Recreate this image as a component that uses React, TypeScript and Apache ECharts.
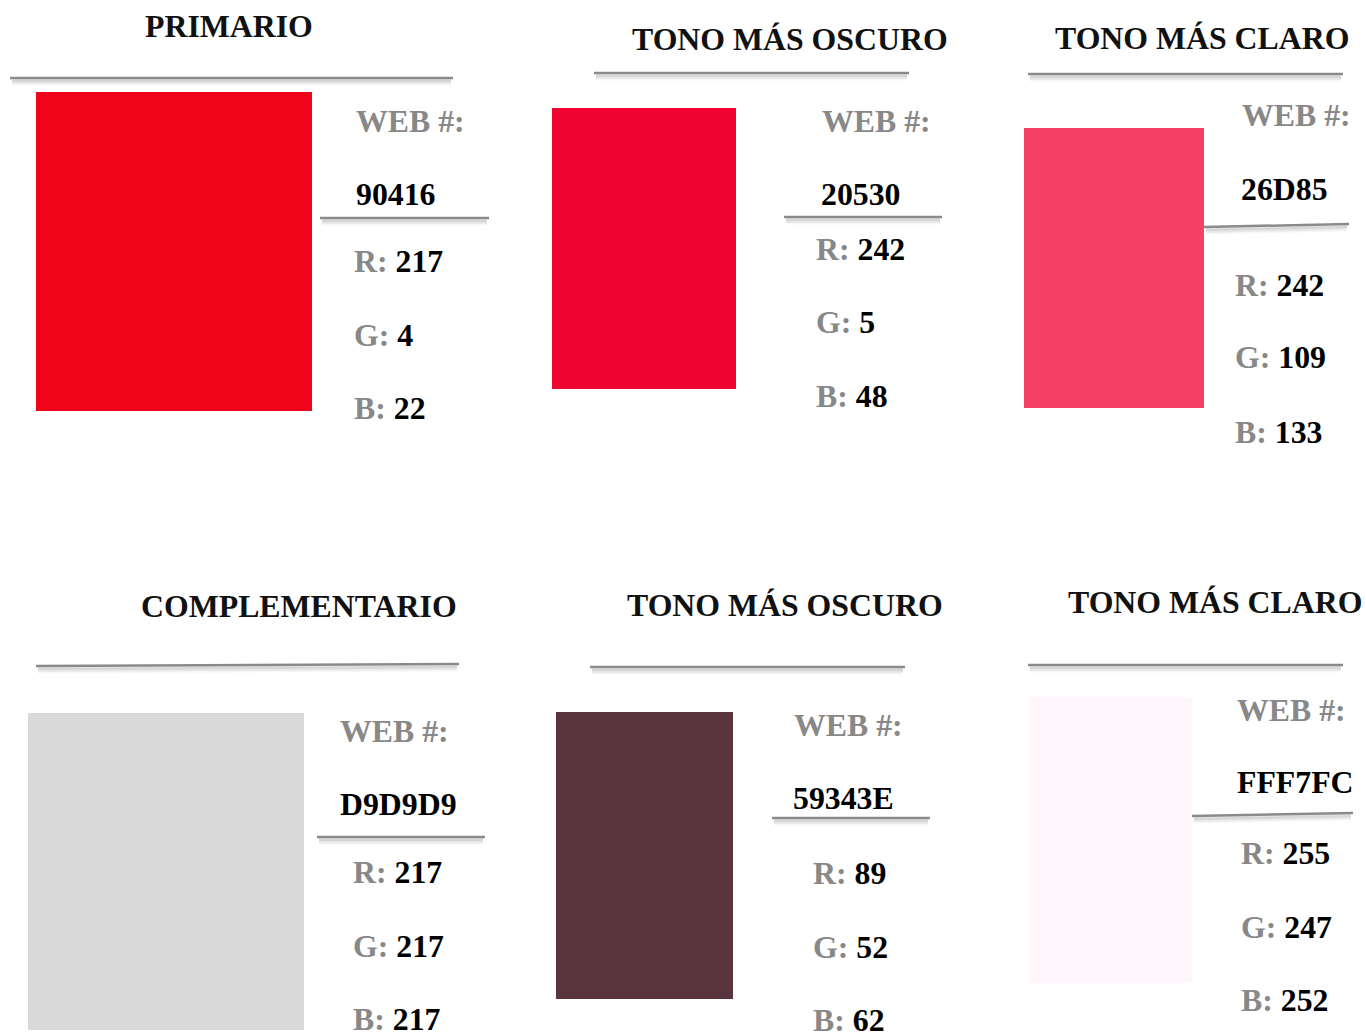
import React, { useEffect, useRef } from 'react';
import * as echarts from 'echarts';

// ---- data ----
const titles = ['PRIMARIO', 'TONO MÁS OSCURO', 'TONO MÁS CLARO', 'COMPLEMENTARIO', 'TONO MÁS OSCURO', 'TONO MÁS CLARO'];
const webCodes = ['90416', '20530', '26D85', 'D9D9D9', '59343E', 'FFF7FC'];
const rValues = [217, 242, 242, 217, 89, 255];
const gValues = [4, 5, 109, 217, 52, 247];
const bValues = [22, 48, 133, 217, 62, 252];
const swatchColors = ['#F0041A', '#F00530', '#F34063', '#D9D9D9', '#59343E', '#FFF7FC'];

// ---- layout (positions only) ----
type Block = {
  title: [number, number];
  titleLine: [number, number, number, number];
  swatch: [number, number, number, number];
  web: [number, number];
  code: [number, number];
  codeLine: [number, number, number, number];
  rgbX: number;
  rgbY: [number, number, number];
};
const layout: Block[] = [
  { title: [145, 37], titleLine: [10, 78, 453, 78], swatch: [36, 92, 276, 319], web: [356, 132], code: [356, 205], codeLine: [320, 218, 489, 218], rgbX: 354, rgbY: [272, 346, 419] },
  { title: [632, 50], titleLine: [594, 73, 909, 73], swatch: [552, 108, 184, 281], web: [822, 132], code: [821, 205], codeLine: [784, 217, 942, 217], rgbX: 816, rgbY: [260, 333, 407] },
  { title: [1055, 49], titleLine: [1028, 74, 1343, 74], swatch: [1024, 128, 180, 280], web: [1242, 126], code: [1241, 200], codeLine: [1204, 227, 1349, 224], rgbX: 1235, rgbY: [296, 368, 443] },
  { title: [141, 617], titleLine: [36, 666, 459, 664], swatch: [28, 713, 276, 317], web: [340, 742], code: [340, 815], codeLine: [317, 837, 485, 837], rgbX: 353, rgbY: [883, 957, 1030] },
  { title: [627, 616], titleLine: [590, 667, 905, 667], swatch: [556, 712, 177, 287], web: [794, 736], code: [793, 809], codeLine: [772, 818, 930, 818], rgbX: 813, rgbY: [884, 958, 1031] },
  { title: [1068, 613], titleLine: [1028, 665, 1343, 665], swatch: [1028, 697, 164, 286], web: [1237, 721], code: [1237, 793], codeLine: [1192, 816, 1353, 813], rgbX: 1241, rgbY: [864, 938, 1011] },
];

const FS = 31.8;
const FONT = `bold ${FS}px "Liberation Serif", "Times New Roman", serif`;
const BASE_OFF = FS * 0.34; // baseline -> central offset
const GRAY = '#888888';

function textEl(x: number, baseline: number, text: string, fill: string) {
  return {
    type: 'text',
    x,
    y: baseline - BASE_OFF,
    silent: true,
    style: { text, font: FONT, fill, textAlign: 'left', textVerticalAlign: 'middle' },
  };
}

function richEl(x: number, baseline: number, label: string, value: number) {
  return {
    type: 'text',
    x,
    y: baseline - BASE_OFF,
    silent: true,
    style: {
      text: `{a|${label}:} {b|${value}}`,
      font: FONT,
      textAlign: 'left',
      textVerticalAlign: 'middle',
      rich: {
        a: { fill: GRAY, font: FONT },
        b: { fill: '#000000', font: FONT },
      },
    },
  };
}

function lineEls(l: [number, number, number, number]) {
  const shadows = [
    { dy: 2.5, w: 3, a: 0.1 },
    { dy: 4, w: 4, a: 0.06 },
    { dy: 5.5, w: 4, a: 0.03 },
  ].map((s) => ({
    type: 'line',
    silent: true,
    shape: { x1: l[0] + 2, y1: l[1] + s.dy, x2: l[2] - 2, y2: l[3] + s.dy },
    style: { stroke: `rgba(0,0,0,${s.a})`, lineWidth: s.w },
  }));
  return [
    ...shadows,
    {
      type: 'line',
      silent: true,
      shape: { x1: l[0], y1: l[1], x2: l[2], y2: l[3] },
      style: { stroke: '#8a8a8a', lineWidth: 2.5 },
    },
  ];
}

function buildElements() {
  const els: any[] = [];
  layout.forEach((b, i) => {
    els.push({
      type: 'rect',
      silent: true,
      shape: { x: b.swatch[0], y: b.swatch[1], width: b.swatch[2], height: b.swatch[3] },
      style: { fill: swatchColors[i] },
    });
    els.push(...lineEls(b.titleLine));
    els.push(...lineEls(b.codeLine));
    els.push(textEl(b.title[0], b.title[1], titles[i], '#111111'));
    els.push(textEl(b.web[0], b.web[1], 'WEB #:', GRAY));
    els.push(textEl(b.code[0], b.code[1], webCodes[i], '#000000'));
    els.push(richEl(b.rgbX, b.rgbY[0], 'R', rValues[i]));
    els.push(richEl(b.rgbX, b.rgbY[1], 'G', gValues[i]));
    els.push(richEl(b.rgbX, b.rgbY[2], 'B', bValues[i]));
  });
  return els;
}

export default function App() {
  const ref = useRef<HTMLDivElement>(null);
  useEffect(() => {
    document.body.style.margin = '0';
    const chart = echarts.init(ref.current!, null, { renderer: 'svg' });
    chart.setOption({
      animation: false,
      backgroundColor: '#ffffff',
      graphic: { elements: buildElements() },
    });
    return () => chart.dispose();
  }, []);
  return <div ref={ref} style={{ width: 1366, height: 1035 }} />;
}
